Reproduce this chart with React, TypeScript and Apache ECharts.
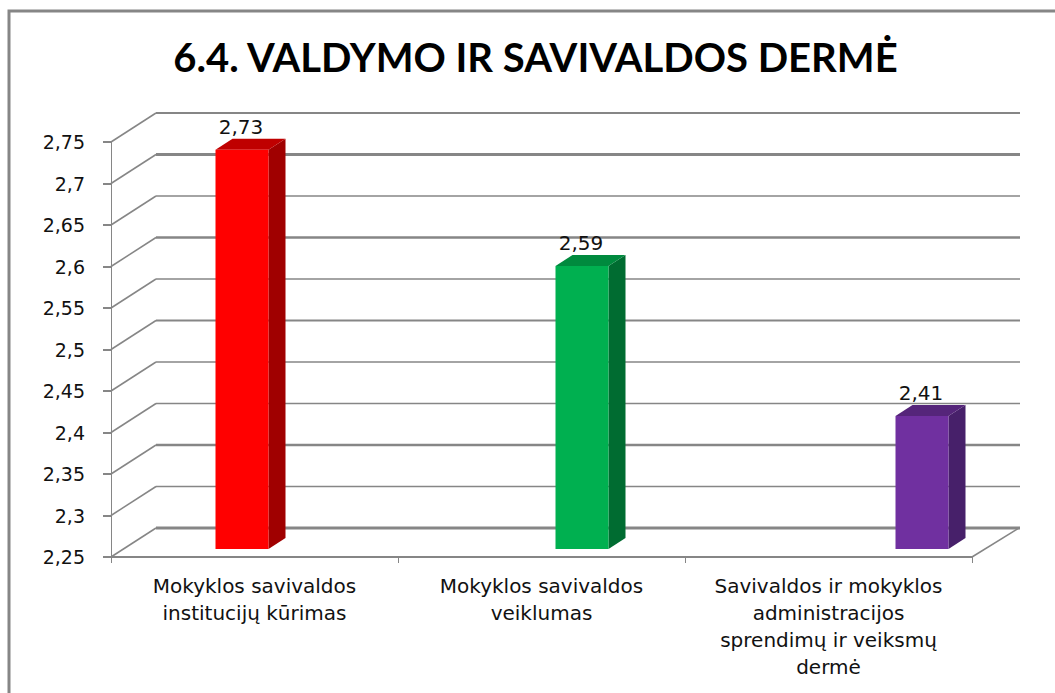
import React, { useEffect, useRef } from "react";
import * as echarts from "echarts";

const titleText = "6.4. VALDYMO IR SAVIVALDOS DERMĖ";
const categories = [
  "Mokyklos savivaldos\ninstitucijų kūrimas",
  "Mokyklos savivaldos\nveiklumas",
  "Savivaldos ir mokyklos\nadministracijos\nsprendimų ir veiksmų\ndermė",
];
const barSlots = [0, 1, 2];
const values = [2.73, 2.59, 2.41];
const valueLabels = ["2,73", "2,59", "2,41"];
const tickValues = [2.25, 2.3, 2.35, 2.4, 2.45, 2.5, 2.55, 2.6, 2.65, 2.7, 2.75];
const tickWeights = [3, 1.5, 2.5, 1.5, 1.5, 2, 1.5, 2.5, 1.5, 3, 2];
const frontColors = ["#FF0000", "#00B050", "#7030A0"];
const topColors = ["#BF0000", "#008A3E", "#55257A"];
const sideColors = ["#A00000", "#006C31", "#47206A"];

const GREY = "#868686";
const FONT = "'DejaVu Sans', sans-serif";
const DX = 45;
const DY = -29;
const HALF = 26.5;
const DEPTH_X = 17;
const DEPTH_Y = -11;

export default function App() {
  const ref = useRef<HTMLDivElement>(null);
  useEffect(() => {
    const chart = echarts.init(ref.current!, undefined, { renderer: "svg" });
    chart.setOption({
      animation: false,
      backgroundColor: "#fff",
      title: {
        text: titleText,
        left: 530.5,
        top: 32,
        textAlign: "center",
        textStyle: { fontFamily: "Lato, sans-serif", fontWeight: "bold", fontSize: 40, color: "#000" },
      },
      graphic: [
        {
          type: "rect",
          shape: { x: 9, y: 11, width: 1200, height: 900 },
          style: { fill: "none", stroke: GREY, lineWidth: 3 },
          silent: true,
        },
      ],
      grid: [
        { left: 111, top: 142, width: 861, height: 415 },
        { left: 242, top: 133, width: 680, height: 416 },
      ],
      xAxis: [
        {
          type: "category",
          gridIndex: 0,
          data: categories,
          axisLine: { lineStyle: { color: GREY, width: 2 } },
          axisTick: { show: true, alignWithLabel: false, length: 6, lineStyle: { color: GREY } },
          axisLabel: {
            interval: 0,
            fontFamily: FONT,
            fontSize: 20,
            lineHeight: 27,
            color: "#111",
            margin: 15,
          },
        },
        { type: "value", gridIndex: 1, min: 0, max: 2, show: false, splitLine: { show: false } },
      ],
      yAxis: [
        {
          type: "value",
          gridIndex: 0,
          min: 2.25,
          max: 2.75,
          interval: 0.05,
          splitLine: { show: false },
          axisLine: { show: true, lineStyle: { color: GREY } },
          axisTick: { show: true, length: 8, lineStyle: { color: GREY, width: 2 } },
          axisLabel: {
            fontFamily: FONT,
            fontSize: 19,
            color: "#111",
            margin: 26,
            formatter: (v: number) => String(+v.toFixed(2)).replace(".", ","),
          },
        },
        { type: "value", gridIndex: 1, min: 2.25, max: 2.75, show: false, splitLine: { show: false } },
      ],
      series: [
        {
          type: "custom",
          xAxisIndex: 0,
          yAxisIndex: 0,
          z: 1,
          silent: true,
          clip: false,
          data: tickValues.map((v, i) => [0, v, tickWeights[i]]),
          encode: { x: 0, y: 1 },
          renderItem: (params: any, api: any) => {
            const sys = params.coordSys;
            const y = api.coord([0, api.value(1)])[1];
            const x0 = sys.x;
            const x1 = sys.x + sys.width;
            const stroke = { stroke: GREY, fill: "none" };
            const children: any[] = [
              {
                type: "polyline",
                shape: { points: [[x0, y], [x0 + DX, y + DY]] },
                style: { ...stroke, lineWidth: 1.5 },
              },
              {
                type: "line",
                shape: { x1: x0 + DX, y1: y + DY, x2: x1 + 48, y2: y + DY },
                style: { ...stroke, lineWidth: api.value(2) },
              },
            ];
            if (params.dataIndex === 0) {
              children.push({
                type: "line",
                shape: { x1, y1: y, x2: x1 + 47, y2: y + DY },
                style: { ...stroke, lineWidth: 1.5 },
              });
            }
            return { type: "group", children };
          },
        },
        {
          type: "custom",
          xAxisIndex: 1,
          yAxisIndex: 1,
          z: 2,
          clip: false,
          data: values.map((v, i) => [barSlots[i], v]),
          encode: { x: 0, y: 1 },
          renderItem: (params: any, api: any) => {
            const i = params.dataIndex;
            const [cx, top] = api.coord([api.value(0), api.value(1)]);
            const base = api.coord([api.value(0), 2.25])[1];
            const l = cx - HALF;
            const r = cx + HALF;
            return {
              type: "group",
              children: [
                {
                  type: "polygon",
                  shape: { points: [[r, top], [r + DEPTH_X, top + DEPTH_Y], [r + DEPTH_X, base + DEPTH_Y], [r, base]] },
                  style: { fill: sideColors[i] },
                },
                {
                  type: "polygon",
                  shape: { points: [[l, top], [l + DEPTH_X, top + DEPTH_Y], [r + DEPTH_X, top + DEPTH_Y], [r, top]] },
                  style: { fill: topColors[i] },
                },
                { type: "rect", shape: { x: l, y: top, width: r - l, height: base - top }, style: { fill: frontColors[i] } },
                {
                  type: "text",
                  style: {
                    x: cx - 1,
                    y: top - 23,
                    text: valueLabels[i],
                    fontFamily: FONT,
                    fontSize: 20,
                    fill: "#111",
                    align: "center",
                    verticalAlign: "middle",
                  },
                },
              ],
            };
          },
        },
      ],
    });
    return () => chart.dispose();
  }, []);
  return <div ref={ref} style={{ position: "absolute", left: 0, top: 0, width: 1055, height: 693 }} />;
}
